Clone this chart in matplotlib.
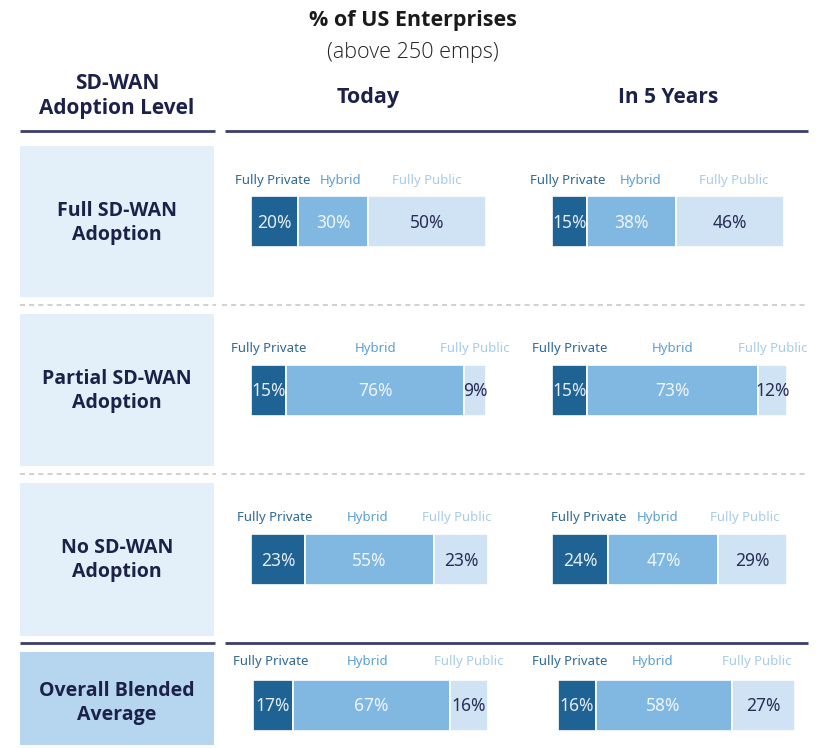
import matplotlib.pyplot as plt
from matplotlib.patches import Rectangle

# data
rows = ["Full SD-WAN\nAdoption", "Partial SD-WAN\nAdoption", "No SD-WAN\nAdoption", "Overall Blended\nAverage"]
segments = ["Fully Private", "Hybrid", "Fully Public"]
today = [[20, 30, 50], [15, 76, 9], [23, 55, 23], [17, 67, 16]]
in5 = [[15, 38, 46], [15, 73, 12], [24, 47, 29], [16, 58, 27]]

seg_colors = ["#1f6294", "#80b8e2", "#cfe3f4"]
lab_colors = ["#2f6896", "#5b9fd3", "#a8cbe9"]
val_colors = ["#e4ecf4", "#eef5fb", "#2a2e55"]
navy = "#1c2149"

W, H = 822, 748
fig = plt.figure(figsize=(W / 100, H / 100), dpi=100)
ax = fig.add_axes([0, 0, 1, 1])
ax.set_xlim(0, W)
ax.set_ylim(H, 0)
ax.axis("off")

hfont = "Open Sans"

# titles
ax.text(413, 20, "% of US Enterprises", ha="center", va="center", fontsize=15.5, fontweight="bold",
        color="#1a1a1a", family=hfont)
ax.text(413, 52, "(above 250 emps)", ha="center", va="center", fontsize=15.5, fontweight="light",
        color="#222222", family=hfont)
ax.text(117, 96, "SD-WAN\nAdoption Level", ha="center", va="center", fontsize=15, fontweight="bold",
        color=navy, family=hfont, linespacing=1.2)
ax.text(368, 97, "Today", ha="center", va="center", fontsize=15.5, fontweight="bold", color=navy, family=hfont)
ax.text(668, 97, "In 5 Years", ha="center", va="center", fontsize=15, fontweight="bold", color=navy, family=hfont)

# rules
for y in (131, 643):
    ax.plot([20, 215], [y, y], color="#3c3e6a", lw=2, solid_capstyle="butt")
    ax.plot([225, 808], [y, y], color="#3c3e6a", lw=2, solid_capstyle="butt")
for y in (305, 474):
    ax.plot([20, 216], [y, y], color="#c8c8c8", lw=1.2, ls=(0, (3, 2.5)))
    ax.plot([222, 808], [y, y], color="#c8c8c8", lw=1.2, ls=(0, (3, 2.5)))

# row layout
box_top = [146, 314, 483, 652]
box_bot = [297, 466, 636, 745]
box_col = ["#e3f0fa", "#e3f0fa", "#e3f0fa", "#b6d6f0"]
name_y = [223, 391, 560, 703]
bar_mid = [221.5, 390, 559.5, 705]
lab_y = [180, 348, 517, 662]
starts = [(251, 552), (251, 552), (251, 552), (253, 558)]
# small nudges so the segment names don't collide
nudge = [((-2, 7, 0), (-2, 9, 4)), ((0, 0, 0), (0, 0, 0)), ((-3, -2, -4), (9, -6, -8)), ((-2, -4, 0), (-7, -11, -6))]
scale = 2.345
bar_h = 51

for i, name in enumerate(rows):
    ax.add_patch(Rectangle((20, box_top[i]), 194, box_bot[i] - box_top[i], color=box_col[i], lw=0))
    ax.text(117, name_y[i], name, ha="center", va="center", fontsize=14,
            fontweight="bold", color=navy, family=hfont, linespacing=1.25)
    for p, (vals, x0) in enumerate(zip((today[i], in5[i]), starts[i])):
        left = x0
        for k, v in enumerate(vals):
            w = v * scale
            ax.barh(bar_mid[i], w, left=left, height=bar_h, color=seg_colors[k], edgecolor="white", lw=1.2)
            cx = left + w / 2
            ax.text(cx, bar_mid[i] + 1, f"{v}%", ha="center", va="center", fontsize=12.5,
                    color=val_colors[k], family="Noto Sans")
            ax.text(cx + nudge[i][p][k], lab_y[i], segments[k], ha="center", va="center", fontsize=9.5,
                    color=lab_colors[k], family="Noto Sans")
            left += w

fig.savefig("out.png", dpi=100)
